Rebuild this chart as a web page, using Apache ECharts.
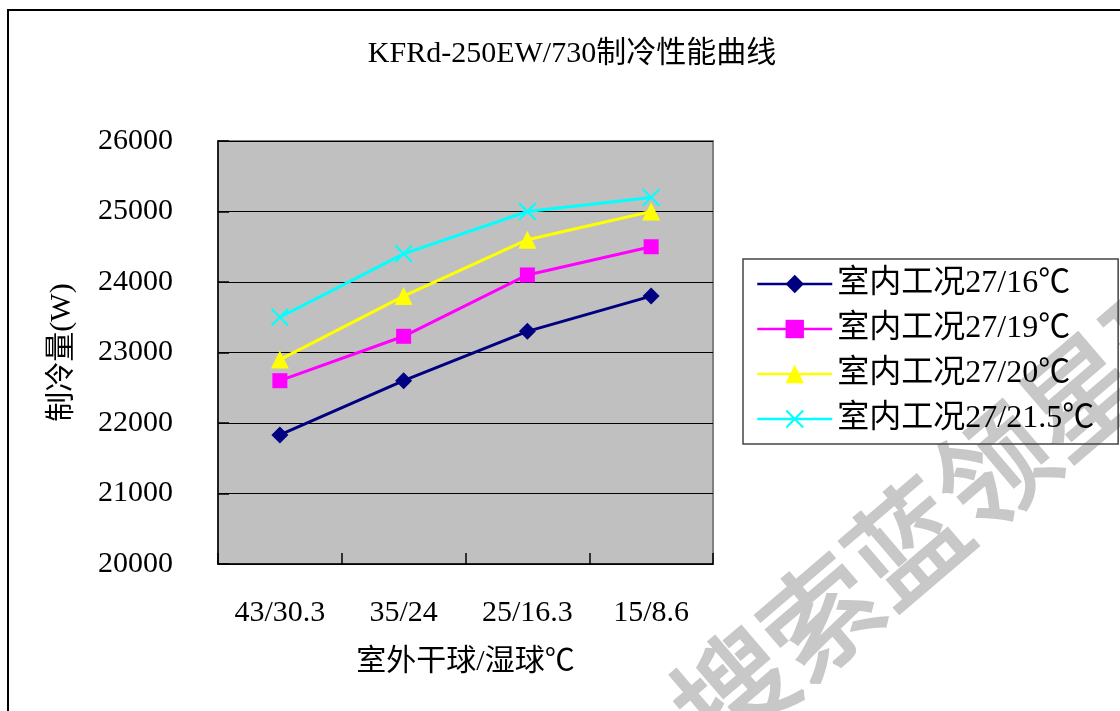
<!DOCTYPE html>
<html>
<head>
<meta charset="utf-8">
<script src="https://cdn.jsdelivr.net/npm/echarts@6/dist/echarts.min.js"></script>
<style>
html,body{margin:0;padding:0;background:#fff;}
#chart{width:1120px;height:711px;}
</style>
</head>
<body>
<div id="chart"></div>
<script>
const categories = ['43/30.3', '35/24', '25/16.3', '15/8.6'];
const seriesNames = ['室内工况27/16℃', '室内工况27/19℃', '室内工况27/20℃', '室内工况27/21.5℃'];
const cap16 = [21830, 22600, 23300, 23800];
const cap19 = [22600, 23230, 24100, 24500];
const cap20 = [22900, 23800, 24600, 25000];
const cap215 = [23500, 24400, 25000, 25200];
const yTicks = { min: 20000, max: 26000, interval: 1000 };
const titleText = 'KFRd-250EW/730制冷性能曲线';
const xName = '室外干球/湿球℃';
const yName = '制冷量(W)';
const watermark = '搜索蓝领星球';

const FONT = "'Liberation Serif', 'Noto Sans CJK SC', serif";
const crossPath = 'path://M0,1.6L1.6,0L10,8.4L18.4,0L20,1.6L11.6,10L20,18.4L18.4,20L10,11.6L1.6,20L0,18.4L8.4,10Z';

function lineSeries(name, data, color, symbol, size) {
  return {
    name: name,
    type: 'line',
    data: data,
    symbol: symbol,
    symbolSize: size,
    lineStyle: { color: color, width: 3 },
    itemStyle: { color: color },
    emphasis: { disabled: true },
    z: 3
  };
}

const chart = echarts.init(document.getElementById('chart'));
chart.setOption({
  animation: false,
  backgroundColor: '#ffffff',
  textStyle: { fontFamily: FONT },
  title: {
    text: titleText,
    left: 567,
    top: 34,
    textAlign: 'center',
    textStyle: { fontFamily: FONT, fontSize: 30, fontWeight: 'normal', color: '#000' }
  },
  grid: {
    left: 218, right: 407, top: 141, bottom: 147,
    show: true,
    backgroundColor: '#C0C0C0',
    borderColor: '#808080',
    borderWidth: 2
  },
  legend: {
    orient: 'vertical',
    left: 743,
    top: 259,
    z: 10,
    padding: [9, 24, 9, 13],
    itemWidth: 75,
    itemHeight: 23,
    itemGap: 13,
    backgroundColor: 'transparent',
    borderColor: '#444',
    borderWidth: 1.5,
    borderRadius: 0,
    lineStyle: { width: 2.5 },
    textStyle: { fontFamily: FONT, fontSize: 32, color: '#000' },
    data: seriesNames
  },
  xAxis: {
    type: 'category',
    data: categories,
    boundaryGap: true,
    name: xName,
    nameLocation: 'middle',
    nameGap: 83,
    nameTextStyle: { fontFamily: FONT, fontSize: 30, color: '#000' },
    axisLine: { lineStyle: { color: '#000', width: 1.5 } },
    axisTick: { show: true, inside: true, length: 11, interval: 0, lineStyle: { color: '#000', width: 1.5 } },
    axisLabel: { margin: 34, fontFamily: FONT, fontSize: 30, color: '#000', interval: 0 },
    splitLine: { show: false }
  },
  yAxis: {
    type: 'value',
    min: yTicks.min,
    max: yTicks.max,
    interval: yTicks.interval,
    name: yName,
    nameLocation: 'middle',
    nameRotate: 90,
    nameGap: 141,
    nameTextStyle: { fontFamily: FONT, fontSize: 30, color: '#000' },
    axisLine: { show: true, lineStyle: { color: '#000', width: 1.5 } },
    axisTick: { show: true, inside: true, length: 11, lineStyle: { color: '#000', width: 1.5 } },
    axisLabel: {
      margin: 45, fontFamily: FONT, fontSize: 30, color: '#000',
      formatter: function (v) { return String(v); }
    },
    splitLine: { show: true, lineStyle: { color: '#000', width: 1 } }
  },
  series: [
    lineSeries(seriesNames[0], cap16, '#000080', 'diamond', 17),
    lineSeries(seriesNames[1], cap19, '#FF00FF', 'rect', 15),
    lineSeries(seriesNames[2], cap20, '#FFFF00', 'triangle', 18),
    lineSeries(seriesNames[3], cap215, '#00FFFF', crossPath, 18)
  ],
  graphic: [
    {
      type: 'rect',
      shape: { x: 8, y: 10, width: 1300, height: 900 },
      style: { fill: null, stroke: '#000', lineWidth: 2 },
      silent: true,
      z: 100
    },
    {
      type: 'text',
      x: 950,
      y: 505,
      rotation: 40.5 * Math.PI / 180,
      style: {
        text: watermark,
        fontFamily: "'Noto Sans CJK SC', sans-serif",
        fontWeight: 'normal',
        fontSize: 114,
        fill: '#c8c8c8',
        stroke: '#c8c8c8',
        lineWidth: 3,
        align: 'center',
        verticalAlign: 'middle'
      },
      silent: true,
      z: 1
    }
  ]
});
</script>
</body>
</html>
